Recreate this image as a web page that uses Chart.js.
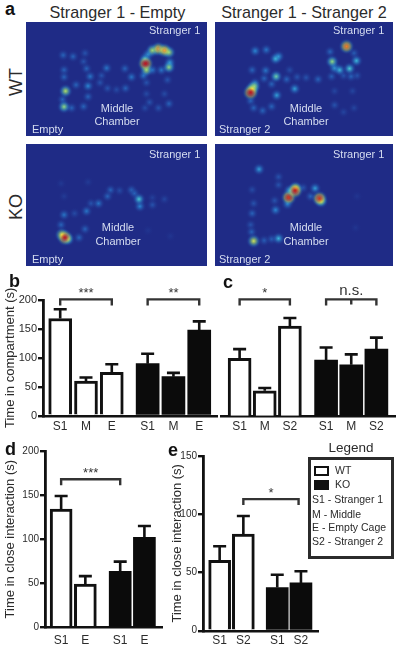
<!DOCTYPE html>
<html>
<head>
<meta charset="utf-8">
<script src="https://cdn.jsdelivr.net/npm/chart.js@4"></script>
<style>
  html, body { margin: 0; padding: 0; background: #fff; }
  body { position: relative; width: 400px; height: 649px; overflow: hidden; font-family: "Liberation Sans", Arial, sans-serif; color: #2b2b2b; }
  canvas { position: absolute; }
  .t { position: absolute; white-space: nowrap; line-height: 1; transform: translateY(-50%); }
  .c { transform: translate(-50%, -50%); }
  .letter { font-weight: bold; font-size: 18px; color: #111; }
  .title { font-size: 16.2px; }
  .group { font-size: 18px; transform: translate(-50%, -50%) rotate(-90deg); }
  .heat { font-size: 11px; color: #d5dcf0; }
  .leg { font-size: 10.5px; }
  #legendBox { position: absolute; left: 308px; top: 457px; width: 80px; height: 96px; border: 3px solid #2b2b2b; }
  .swatch { position: absolute; left: 314px; width: 11px; height: 6px; border: 2px solid #111; background: #fff; }
</style>
</head>
<body>
<canvas id="heatWtEmpty" width="181" height="114" style="left:26px;top:22px"></canvas>
<canvas id="heatWtStranger" width="178" height="114" style="left:215px;top:22px"></canvas>
<canvas id="heatKoEmpty" width="181" height="122" style="left:26px;top:144px"></canvas>
<canvas id="heatKoStranger" width="178" height="122" style="left:215px;top:144px"></canvas>
<canvas id="chartB" width="218" height="165" style="left:0;top:280px"></canvas>
<canvas id="chartC" width="176" height="165" style="left:220px;top:280px"></canvas>
<canvas id="chartD" width="163" height="209" style="left:0;top:440px"></canvas>
<canvas id="chartE" width="154" height="204" style="left:165px;top:445px"></canvas>

<div class="t letter" style="left:5px;top:9px">a</div>
<div class="t letter" style="left:9px;top:281px">b</div>
<div class="t letter" style="left:223px;top:282px">c</div>
<div class="t letter" style="left:5px;top:449px">d</div>
<div class="t letter" style="left:168px;top:450px">e</div>
<div class="t title c" style="left:117.5px;top:12px">Stranger 1 - Empty</div>
<div class="t title c" style="left:304px;top:12px">Stranger 1 - Stranger 2</div>
<div class="t group" style="left:16px;top:82px">WT</div>
<div class="t group" style="left:16px;top:207px">KO</div>

<div class="t heat" style="left:149px;top:30px">Stranger 1</div>
<div class="t heat c" style="left:117px;top:108px">Middle</div>
<div class="t heat c" style="left:117px;top:121px">Chamber</div>
<div class="t heat" style="left:32px;top:129px">Empty</div>
<div class="t heat" style="left:333px;top:30px">Stranger 1</div>
<div class="t heat c" style="left:306px;top:108px">Middle</div>
<div class="t heat c" style="left:306px;top:121px">Chamber</div>
<div class="t heat" style="left:219px;top:129px">Stranger 2</div>
<div class="t heat" style="left:149px;top:154px">Stranger 1</div>
<div class="t heat c" style="left:118px;top:227px">Middle</div>
<div class="t heat c" style="left:118px;top:241px">Chamber</div>
<div class="t heat" style="left:32px;top:259px">Empty</div>
<div class="t heat" style="left:333px;top:154px">Stranger 1</div>
<div class="t heat c" style="left:306px;top:227px">Middle</div>
<div class="t heat c" style="left:306px;top:241px">Chamber</div>
<div class="t heat" style="left:219px;top:259px">Stranger 2</div>

<div class="t c" style="left:351px;top:448px;font-size:13.5px">Legend</div>
<div id="legendBox"></div>
<div class="swatch" style="top:466px"></div>
<div class="swatch" style="top:480px;background:#111"></div>
<div class="t leg" style="left:335px;top:470px">WT</div>
<div class="t leg" style="left:335px;top:484px">KO</div>
<div class="t leg" style="left:312px;top:499px">S1 - Stranger 1</div>
<div class="t leg" style="left:312px;top:514px">M - Middle</div>
<div class="t leg" style="left:312px;top:527px">E - Empty Cage</div>
<div class="t leg" style="left:312px;top:541px">S2 - Stranger 2</div>

<script>
// bar panels: means and SEMs
const bLabelsWt = ["S1", "M", "E"];
const bLabelsKo = ["S1", "M", "E"];
const bWt = [168, 60, 75];
const bKo = [90, 67.5, 148];
const bWtErr = [16, 6, 14];
const bKoErr = [17, 6.5, 15];

const cLabelsWt = ["S1", "M", "S2"];
const cLabelsKo = ["S1", "M", "S2"];
const cWt = [99, 43, 155];
const cKo = [96, 88, 115];
const cWtErr = [16, 5, 14];
const cKoErr = [22, 18, 20];

const dLabelsWt = ["S1", "E"];
const dLabelsKo = ["S1", "E"];
const dWt = [134, 49];
const dKo = [63.5, 102];
const dWtErr = [15, 9];
const dKoErr = [11, 13];

const eLabelsWt = ["S1", "S2"];
const eLabelsKo = ["S1", "S2"];
const eWt = [60.5, 83];
const eKo = [37, 41];
const eWtErr = [12, 15.5];
const eKoErr = [11, 10];

// occupancy heatmaps: [x, y, intensity] hot spots in arena units
const wtEmptyHeat = [
  [447, 182, 1], [450, 205, 0.6], [490, 130, 0.8], [510, 135, 0.8], [470, 135, 0.6], [525, 142, 0.6],
  [525, 195, 0.55], [180, 280, 0.6], [175, 336, 0.55], [445, 165, 0.4], [455, 150, 0.35], [528, 178, 0.35],
  [470, 205, 0.25], [500, 205, 0.25], [440, 225, 0.25], [262, 228, 0.25], [255, 262, 0.3],
  [317, 198, 0.25], [400, 230, 0.25], [172, 152, 0.2], [205, 157, 0.2], [250, 200, 0.2], [175, 205, 0.2],
  [175, 230, 0.2], [215, 258, 0.2], [170, 310, 0.2], [200, 340, 0.2], [240, 335, 0.2], [255, 300, 0.2],
  [378, 200, 0.2], [380, 270, 0.2], [525, 325, 0.2], [245, 145, 0.15], [240, 175, 0.15], [300, 225, 0.15],
  [295, 250, 0.15], [320, 270, 0.15], [450, 250, 0.15], [520, 240, 0.15], [460, 320, 0.15], [490, 340, 0.15],
  [350, 275, 0.12], [450, 290, 0.12], [510, 290, 0.12], [445, 340, 0.12]
];
const wtStrangerHeat = [
  [135, 285, 1], [455, 121, 0.85], [140, 272, 0.7], [147, 263, 0.6], [407, 175, 0.55], [220, 228, 0.5],
  [465, 200, 0.45], [218, 165, 0.4], [488, 172, 0.4], [432, 205, 0.4], [228, 157, 0.35], [415, 198, 0.35],
  [222, 295, 0.35], [282, 272, 0.35], [150, 137, 0.3], [187, 133, 0.25], [185, 207, 0.25], [140, 205, 0.2],
  [180, 235, 0.2], [150, 250, 0.2], [205, 255, 0.2], [135, 315, 0.2], [175, 350, 0.2], [145, 340, 0.2],
  [205, 335, 0.2], [255, 238, 0.2], [360, 238, 0.2], [400, 140, 0.2], [470, 228, 0.2], [480, 145, 0.18],
  [405, 228, 0.18], [290, 230, 0.15], [320, 232, 0.15], [445, 225, 0.15], [490, 225, 0.15], [415, 330, 0.15],
  [265, 205, 0.12], [480, 340, 0.1], [415, 280, 0.1], [445, 355, 0.1], [475, 280, 0.1]
];
const koEmptyHeat = [
  [178, 325, 1], [168, 315, 0.7], [188, 330, 0.55], [425, 190, 0.45], [428, 215, 0.3], [290, 205, 0.25],
  [175, 245, 0.25], [250, 232, 0.25], [400, 158, 0.2], [330, 158, 0.2], [320, 180, 0.2], [165, 280, 0.2],
  [245, 295, 0.2], [225, 325, 0.2], [410, 170, 0.2], [265, 205, 0.15], [470, 210, 0.15], [210, 240, 0.12],
  [360, 160, 0.12], [510, 190, 0.1], [470, 185, 0.08], [175, 180, 0.06], [255, 130, 0.06], [165, 135, 0.05],
  [530, 320, 0.04], [455, 300, 0.04]
];
const koStrangerHeat = [
  [283, 160, 1], [262, 184, 0.95], [365, 188, 0.95], [285, 152, 0.7], [145, 337, 0.65], [370, 197, 0.6],
  [265, 160, 0.4], [228, 328, 0.4], [350, 152, 0.35], [163, 85, 0.35], [258, 207, 0.3], [218, 228, 0.3],
  [140, 240, 0.2], [138, 305, 0.2], [335, 180, 0.2], [180, 335, 0.18], [205, 330, 0.18], [228, 112, 0.15],
  [228, 140, 0.15], [145, 205, 0.15], [135, 280, 0.15], [310, 150, 0.15], [215, 195, 0.15], [140, 157, 0.12],
  [490, 180, 0.04], [485, 290, 0.04]
];

const HEAT_BG = "#1f2b86";
const JET = [
  [31, 43, 134], [38, 80, 170], [40, 125, 205], [62, 190, 220], [150, 220, 120],
  [245, 230, 65], [240, 120, 35], [190, 20, 30]
];

function jet(v, alpha) {
  const p = Math.min(v, 0.999) * (JET.length - 1);
  const i = Math.floor(p);
  const f = p - i;
  const rgb = JET[i].map((c, k) => Math.round(c + (JET[i + 1][k] - c) * f));
  return `rgba(${rgb[0]},${rgb[1]},${rgb[2]},${alpha})`;
}

const heatBackground = {
  id: "heatBackground",
  beforeDraw(chart) {
    chart.ctx.fillStyle = HEAT_BG;
    chart.ctx.fillRect(0, 0, chart.width, chart.height);
  },
};

function heatmap(id, spots, xRange, yRange) {
  const sorted = [...spots].sort((a, b) => a[2] - b[2]);
  const radius = (v) => 6 + v * 3;
  new Chart(document.getElementById(id), {
    type: "bubble",
    data: {
      datasets: [{
        data: sorted.map((s) => ({ x: s[0], y: s[1], r: radius(s[2]), v: s[2] })),
        borderWidth: 0,
        backgroundColor(ctx) {
          const p = ctx.raw;
          if (!p) return HEAT_BG;
          const px = ctx.chart.scales.x.getPixelForValue(p.x);
          const py = ctx.chart.scales.y.getPixelForValue(p.y);
          // scales aren't laid out yet on the first resolve
          if (!Number.isFinite(px) || !Number.isFinite(py)) return HEAT_BG;
          const g = ctx.chart.ctx.createRadialGradient(px, py, 0, px, py, p.r);
          for (let s = 0; s <= 6; s++) {
            const t = s / 6;
            g.addColorStop(t, jet(p.v * (1 - t * t), Math.pow(1 - t, 1.4)));
          }
          return g;
        },
      }],
    },
    plugins: [heatBackground],
    options: {
      responsive: false,
      animation: false,
      layout: { padding: 0 },
      plugins: { legend: { display: false }, tooltip: { enabled: false } },
      scales: {
        x: { type: "linear", display: false, min: xRange[0], max: xRange[1] },
        y: { type: "linear", display: false, min: yRange[0], max: yRange[1], reverse: true },
      },
    },
  });
}

heatmap("heatWtEmpty", wtEmptyHeat, [78, 622], [66, 408]);
heatmap("heatWtStranger", wtStrangerHeat, [46, 580], [66, 408]);
heatmap("heatKoEmpty", koEmptyHeat, [78, 622], [28, 393]);
heatmap("heatKoStranger", koStrangerHeat, [46, 580], [28, 393]);

// error bars and significance brackets go through the chart's own scales
const annotations = {
  id: "annotations",
  afterDatasetsDraw(chart, args, opts) {
    const { ctx, scales: { x, y } } = chart;
    ctx.save();
    ctx.strokeStyle = "#111";
    ctx.lineWidth = 2.6;
    chart.data.datasets.forEach((ds) => {
      ds.data.forEach((pt, i) => {
        const px = x.getPixelForValue(pt.x);
        const top = y.getPixelForValue(pt.y + ds.errors[i]);
        ctx.beginPath();
        ctx.moveTo(px, y.getPixelForValue(pt.y));
        ctx.lineTo(px, top);
        ctx.moveTo(px - 6.5, top);
        ctx.lineTo(px + 6.5, top);
        ctx.stroke();
      });
    });
    ctx.strokeStyle = "#333";
    ctx.lineWidth = 2.4;
    ctx.fillStyle = "#333";
    ctx.textAlign = "center";
    ctx.textBaseline = "middle";
    (opts.brackets || []).forEach((b) => {
      const left = x.getPixelForValue(b.from);
      const right = x.getPixelForValue(b.to);
      const py = y.getPixelForValue(b.level);
      ctx.beginPath();
      ctx.moveTo(left, py + 6);
      ctx.lineTo(left, py);
      ctx.lineTo(right, py);
      ctx.lineTo(right, py + 6);
      if (b.mid !== undefined) {
        const mid = x.getPixelForValue(b.mid);
        ctx.moveTo(mid, py);
        ctx.lineTo(mid, py + 5);
      }
      ctx.stroke();
      ctx.font = `${b.size || 13}px "Liberation Sans", Arial, sans-serif`;
      ctx.fillText(b.mark, (left + right) / 2, py - (b.lift || 6));
    });
    ctx.restore();
  },
};

function barChart(id, cfg) {
  const xWt = cfg.wt.map((v, i) => i);
  const xKo = cfg.ko.map((v, i) => i + cfg.koStart);
  const positions = [...xWt, ...xKo];
  const labels = [...cfg.labelsWt, ...cfg.labelsKo];
  new Chart(document.getElementById(id), {
    type: "bar",
    data: {
      datasets: [
        {
          label: "WT",
          data: cfg.wt.map((v, i) => ({ x: xWt[i], y: v })),
          errors: cfg.wtErr,
          backgroundColor: "#fff",
          borderColor: "#111",
          borderWidth: 3,
          barThickness: cfg.barWidth,
          grouped: false,
        },
        {
          label: "KO",
          data: cfg.ko.map((v, i) => ({ x: xKo[i], y: v })),
          errors: cfg.koErr,
          backgroundColor: "#0b0b0b",
          borderColor: "#0b0b0b",
          borderWidth: 0,
          barThickness: cfg.barWidth,
          grouped: false,
        },
      ],
    },
    plugins: [annotations],
    options: {
      responsive: false,
      animation: false,
      layout: { padding: { top: cfg.padTop, left: 0, right: 0, bottom: 0 } },
      plugins: {
        legend: { display: false },
        tooltip: { enabled: false },
        annotations: { brackets: cfg.brackets },
      },
      scales: {
        x: {
          type: "linear",
          offset: false,
          min: -cfg.firstBar / cfg.unit,
          max: (cfg.plotWidth - cfg.firstBar) / cfg.unit,
          grid: { display: false, drawTicks: false, offset: false },
          border: { color: "#111", width: 2.4 },
          afterBuildTicks(axis) {
            axis.ticks = positions.map((value) => ({ value }));
          },
          afterFit(axis) {
            axis.height = cfg.xHeight;
          },
          ticks: {
            autoSkip: false,
            maxRotation: 0,
            padding: cfg.tickPad,
            color: "#2b2b2b",
            font: { family: "'Liberation Sans', Arial, sans-serif", size: 12 },
            callback: (value, index) => labels[index],
          },
        },
        y: {
          display: cfg.yWidth > 0,
          min: 0,
          max: cfg.yMax,
          afterFit(axis) {
            axis.width = cfg.yWidth;
          },
          title: {
            display: true,
            text: cfg.yTitle,
            color: "#2b2b2b",
            padding: { top: cfg.titlePad, bottom: 0 },
            font: { family: "'Liberation Sans', Arial, sans-serif", size: cfg.titleSize },
          },
          grid: { drawOnChartArea: false, color: "#111", lineWidth: 2.4, tickLength: 5 },
          border: { color: "#111", width: 2.8 },
          ticks: {
            stepSize: 50,
            padding: 1,
            color: "#2b2b2b",
            font: { family: "'Liberation Sans', Arial, sans-serif", size: cfg.tickSize },
          },
        },
      },
    },
  });
}

barChart("chartB", {
  labelsWt: bLabelsWt, labelsKo: bLabelsKo, wt: bWt, ko: bKo, wtErr: bWtErr, koErr: bKoErr,
  koStart: 3.39, unit: 25.5, firstBar: 17, plotWidth: 173, barWidth: 23,
  padTop: 20, xHeight: 29.3, yWidth: 43, yMax: 200, tickSize: 11, tickPad: 4,
  yTitle: "Time in compartment (s)", titleSize: 13, titlePad: 3,
  brackets: [
    { from: 0, to: 2, level: 201, mark: "***" },
    { from: 3.39, to: 5.39, level: 201, mark: "**" },
  ],
});

barChart("chartC", {
  labelsWt: cLabelsWt, labelsKo: cLabelsKo, wt: cWt, ko: cKo, wtErr: cWtErr, koErr: cKoErr,
  koStart: 3.44, unit: 25, firstBar: 19.5, plotWidth: 175, barWidth: 23,
  padTop: 20, xHeight: 29.3, yWidth: 0, yMax: 200, tickSize: 11, tickPad: 4,
  yTitle: "", titleSize: 13, titlePad: 0,
  brackets: [
    { from: 0, to: 2, level: 201, mark: "*" },
    { from: 3.44, to: 5.44, level: 201, mark: "n.s.", mid: 4.44, size: 15, lift: 9 },
  ],
});

barChart("chartD", {
  labelsWt: dLabelsWt, labelsKo: dLabelsKo, wt: dWt, ko: dKo, wtErr: dWtErr, koErr: dKoErr,
  koStart: 2.44, unit: 24, firstBar: 16, plotWidth: 117, barWidth: 22,
  padTop: 11, xHeight: 21.7, yWidth: 45, yMax: 200, tickSize: 10, tickPad: 6,
  yTitle: "Time in close interaction (s)", titleSize: 13, titlePad: 3,
  brackets: [{ from: 0, to: 2.44, level: 168, mark: "***" }],
});

barChart("chartE", {
  labelsWt: eLabelsWt, labelsKo: eLabelsKo, wt: eWt, ko: eKo, wtErr: eWtErr, koErr: eKoErr,
  koStart: 2.43, unit: 23.5, firstBar: 16.5, plotWidth: 115, barWidth: 22,
  padTop: 11, xHeight: 18.3, yWidth: 38, yMax: 150, tickSize: 10, tickPad: 3,
  yTitle: "Time in close interaction (s)", titleSize: 13, titlePad: 5,
  brackets: [{ from: 1, to: 3.33, level: 113, mark: "*" }],
});
</script>
</body>
</html>
